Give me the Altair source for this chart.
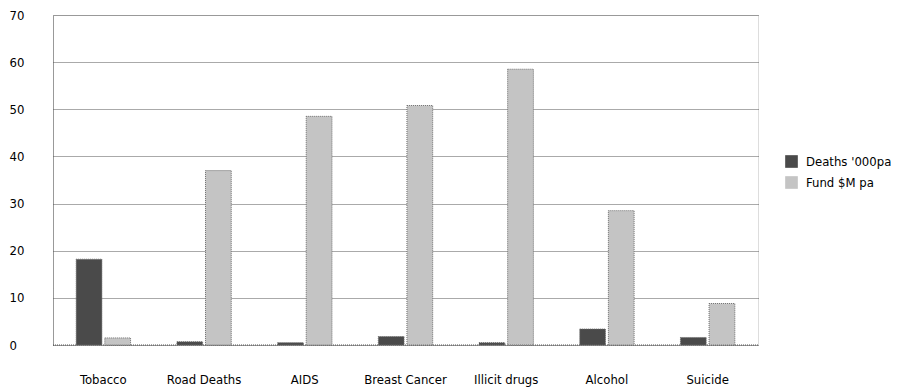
import altair as alt
import pandas as pd

categories = ["Tobacco", "Road Deaths", "AIDS", "Breast Cancer", "Illicit drugs", "Alcohol", "Suicide"]
deaths_000pa = [18.2, 0.7, 0.5, 1.8, 0.5, 3.4, 1.6]
fund_m_pa = [1.5, 37.0, 48.5, 50.8, 58.5, 28.5, 8.8]
series_names = ["Deaths '000pa", "Fund $M pa"]

rows = []
for cat, d, f in zip(categories, deaths_000pa, fund_m_pa):
    rows.append({"cause": cat, "series": series_names[0], "value": d})
    rows.append({"cause": cat, "series": series_names[1], "value": f})
df = pd.DataFrame(rows)

FONT = "Liberation Sans Narrow, DejaVu Sans Condensed, sans-serif"

bars = alt.Chart(df).mark_bar(
    stroke="#6f6f6f", strokeWidth=1, strokeDash=[1, 1]
).encode(
    x=alt.X("cause:N", sort=categories,
            scale=alt.Scale(paddingInner=0.46, paddingOuter=0.23),
            axis=alt.Axis(title=None, labelAngle=0, ticks=False, domain=False,
                          labelPadding=28, labelFontSize=13, labelFont=FONT,
                          labelColor="#000")),
    xOffset=alt.XOffset("series:N", sort=series_names,
                        scale=alt.Scale(paddingInner=0.1)),
    y=alt.Y("value:Q",
            scale=alt.Scale(domain=[0, 70], nice=False),
            axis=alt.Axis(title=None, values=[0, 10, 20, 30, 40, 50, 60, 70],
                          ticks=False, domain=True, domainDash=[1, 1],
                          domainColor="#555", labelAlign="left",
                          labelPadding=44, labelFontSize=13, labelFont=FONT,
                          labelColor="#000", grid=True, gridDash=[1, 1],
                          gridColor="#555", gridWidth=1)),
    color=alt.Color("series:N", sort=series_names,
                    scale=alt.Scale(domain=series_names, range=["#4a4a4a", "#c4c4c4"]),
                    legend=alt.Legend(title=None, orient="none", legendX=732, legendY=140,
                                      symbolType="square", symbolSize=160,
                                      symbolStrokeWidth=0, labelFont=FONT,
                                      labelFontSize=13, labelColor="#000",
                                      rowPadding=7, labelOffset=8)),
)

# Dotted baseline along zero
base = alt.Chart(pd.DataFrame({"y": [0]})).mark_rule(
    color="#555", strokeDash=[1, 1]
).encode(y="y:Q")

chart = alt.layer(base, bars).properties(
    width=705, height=330,
    autosize=alt.AutoSizeParams(type="none"),
    padding={"left": 53, "top": 15, "right": 157, "bottom": 42},
).configure_view(stroke=None).configure(background="white")

chart.save("out.html", embed_options={"renderer": "svg", "actions": False})
